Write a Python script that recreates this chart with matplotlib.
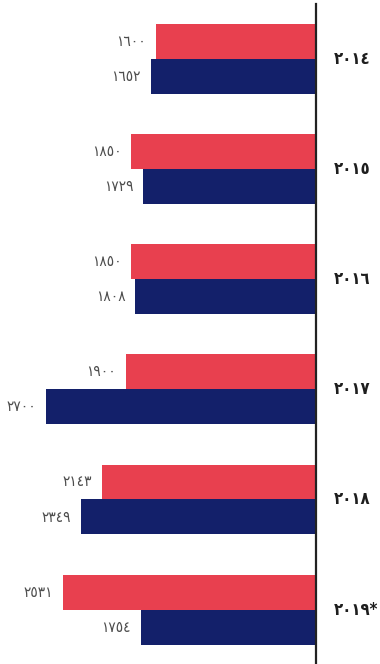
import matplotlib
matplotlib.use("Agg")
import matplotlib.pyplot as plt

years = ["2014", "2015", "2016", "2017", "2018", "2019*"]
red_values = [1600, 1850, 1850, 1900, 2143, 2531]
blue_values = [1652, 1729, 1808, 2700, 2349, 1754]

RED = "#E8404F"
NAVY = "#13206A"
AR_DIGITS = str.maketrans("0123456789", "٠١٢٣٤٥٦٧٨٩")


def ar(text) -> str:
    return str(text).translate(AR_DIGITS)


W, H = 380, 664
fig = plt.figure(figsize=(W / 100, H / 100), dpi=100, facecolor="white")

axis_px = 316
ax = fig.add_axes([0, 0, axis_px / W, 1])

group_px = 110.2
top_px = 58.7
bar_h = 35 / group_px

ys = list(range(len(years)))
ax.barh([y - bar_h / 2 for y in ys], red_values, height=bar_h, color=RED)
ax.barh([y + bar_h / 2 for y in ys], blue_values, height=bar_h, color=NAVY)

ax.set_xlim(3160, 0)
ax.set_ylim(-top_px / group_px + H / group_px, -top_px / group_px)

for s in ["top", "bottom", "left"]:
    ax.spines[s].set_visible(False)
ax.spines["right"].set_color("#222222")
ax.spines["right"].set_linewidth(1.6)
ax.spines["right"].set_bounds(ax.get_ylim()[0], -top_px / group_px + 4 / group_px)
ax.set_xticks([])
ax.set_yticks([])
ax.patch.set_visible(False)

pad = 7
for y, r, b in zip(ys, red_values, blue_values):
    ax.annotate(ar(r), (r, y - bar_h / 2), xytext=(-pad, 0), textcoords="offset points",
                ha="right", va="center", fontsize=11, fontstretch="condensed",
                color="#4d4d4d")
    ax.annotate(ar(b), (b, y + bar_h / 2), xytext=(-pad, 0), textcoords="offset points",
                ha="right", va="center", fontsize=11, fontstretch="condensed",
                color="#4d4d4d")

for y, yr in zip(ys, years):
    ax.annotate(ar(yr), (0, y), xytext=(13, 0), textcoords="offset points",
                ha="left", va="center", fontsize=12, fontweight="bold",
                fontstretch="condensed", color="#1e1e1e", annotation_clip=False)

fig.savefig("out.png", dpi=100, facecolor="white")
